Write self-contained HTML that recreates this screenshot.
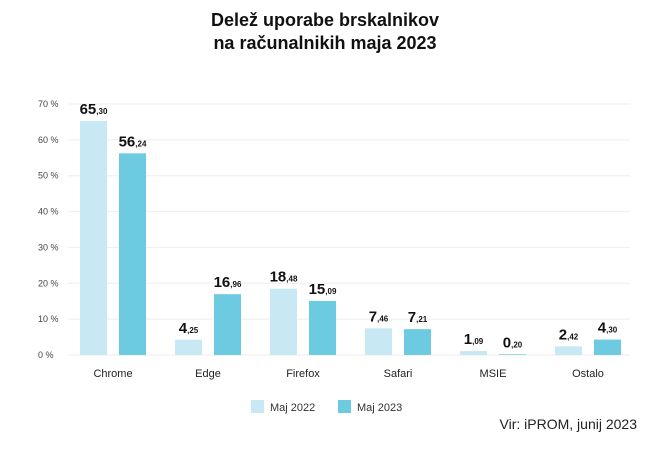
<!DOCTYPE html>
<html><head><meta charset="utf-8"><style>
body{margin:0;background:#fff;font-family:"Liberation Sans",sans-serif}
svg text{font-family:"Liberation Sans",sans-serif}
</style></head><body>
<svg id="c" width="650" height="450">
<text x="325" y="26" text-anchor="middle" font-size="18" font-weight="bold" fill="#111">Delež uporabe brskalnikov</text>
<text x="325" y="49" text-anchor="middle" font-size="18" font-weight="bold" fill="#111">na računalnikih maja 2023</text>
<g id="grid"></g><g id="bars"></g>
<rect x="251" y="400" width="13" height="13" fill="#c8e8f3"/>
<text x="270" y="411" font-size="11" fill="#333">Maj 2022</text>
<rect x="338" y="400" width="13" height="13" fill="#6ccbe0"/>
<text x="357" y="411" font-size="11" fill="#333">Maj 2023</text>
<text x="637" y="429" text-anchor="end" font-size="14" fill="#222">Vir: iPROM, junij 2023</text>
</svg>
<script>
const categories=["Chrome","Edge","Firefox","Safari","MSIE","Ostalo"];
const values2022=[65.30,4.25,18.48,7.46,1.09,2.42];
const values2023=[56.24,16.96,15.09,7.21,0.20,4.30];
const ticks=[0,10,20,30,40,50,60,70];
const NS="http://www.w3.org/2000/svg";
const y=v=>355-v*251/70;
const x=i=>113+i*95;
function mk(t,a,p){const e=document.createElementNS(NS,t);for(const k in a)e.setAttribute(k,a[k]);p.appendChild(e);return e;}
const g=document.getElementById('grid'),b=document.getElementById('bars');
ticks.forEach(t=>{
 const l=mk('line',{x1:68,x2:630,y1:y(t),y2:y(t),stroke:'#eeeeee'},g);
 
 
 const tx=mk('text',{x:38,y:y(t)+3,'font-size':9,fill:'#444'},g);tx.textContent=t+' %';
 
 
});
function lab(v,cx,p){
 const s=v.toFixed(2).split('.');
 const t=mk('text',{x:cx,y:y(v)-7,'text-anchor':'middle','font-weight':'bold',fill:'#111'},p);
 const a=mk('tspan',{'font-size':15},t);a.textContent=s[0];
 const c=mk('tspan',{'font-size':8},t);c.textContent=','+s[1];
 
 
}
categories.forEach((c,i)=>{
 const cx=x(i);
 const r1=mk('rect',{x:cx-33,y:y(values2022[i]),width:27,height:355-y(values2022[i]),fill:'#c8e8f3'},b);
 
 
 const r2=mk('rect',{x:cx+6,y:y(values2023[i]),width:27,height:355-y(values2023[i]),fill:'#6ccbe0'},b);
 
 
 lab(values2022[i],cx-19.5,b);lab(values2023[i],cx+19.5,b);
 const t=mk('text',{x:cx,y:377,'text-anchor':'middle','font-size':11,fill:'#222'},b);t.textContent=c;
 
 
});
</script>
</body></html>
